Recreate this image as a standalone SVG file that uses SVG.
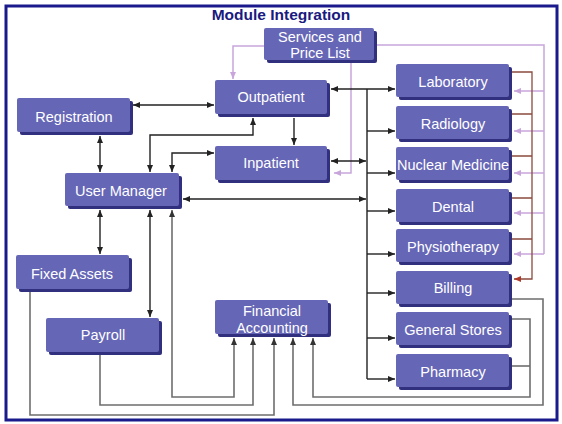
<svg xmlns="http://www.w3.org/2000/svg" width="562" height="424" viewBox="0 0 562 424">
<style>
.sh{fill:#30307e}
.bx{fill:#6666b6}
.t{font-family:"Liberation Sans",Arial,sans-serif;font-size:14.5px;fill:#ffffff;text-anchor:middle}
.k{fill:none;stroke:#222;stroke-width:1.4}
.g{fill:none;stroke:#6e6e6e;stroke-width:1.6}
.l{fill:none;stroke:#c8a6dc;stroke-width:1.5}
.b{fill:none;stroke:#8a4a3c;stroke-width:1.3}
</style>
<defs>
<marker id="ak" viewBox="0 0 7 6" refX="7" refY="3" markerWidth="7" markerHeight="6" markerUnits="userSpaceOnUse" orient="auto-start-reverse"><path d="M0,0L7,3L0,6z" fill="#222"/></marker>
<marker id="ag" viewBox="0 0 7 6" refX="7" refY="3" markerWidth="7" markerHeight="6" markerUnits="userSpaceOnUse" orient="auto-start-reverse"><path d="M0,0L7,3L0,6z" fill="#333"/></marker>
<marker id="al" viewBox="0 0 7 6" refX="7" refY="3" markerWidth="7" markerHeight="6" markerUnits="userSpaceOnUse" orient="auto-start-reverse"><path d="M0,0L7,3L0,6z" fill="#c8a6dc"/></marker>
<marker id="ab" viewBox="0 0 7 6" refX="7" refY="3" markerWidth="7" markerHeight="6" markerUnits="userSpaceOnUse" orient="auto-start-reverse"><path d="M0,0L7,3L0,6z" fill="#b03a2a"/></marker>
</defs>
<rect x="0" y="0" width="562" height="424" fill="#ffffff"/>
<rect x="6" y="6" width="551" height="414" fill="#ffffff" stroke="#1a1a8c" stroke-width="3"/>
<text x="281" y="20" font-family="'Liberation Sans',Arial,sans-serif" font-size="15.5" font-weight="bold" fill="#1a1a80" text-anchor="middle">Module Integration</text>

<g id="connectors">
<path class="l" d="M264,46H233V79" marker-end="url(#al)"/>
<path class="l" d="M351,63V173H334" marker-end="url(#al)"/>
<path class="l" d="M377,45H544V254"/>
<path class="l" d="M544,91H514" marker-end="url(#al)"/>
<path class="l" d="M544,131H514" marker-end="url(#al)"/>
<path class="l" d="M544,173H514" marker-end="url(#al)"/>
<path class="l" d="M544,213H514" marker-end="url(#al)"/>
<path class="l" d="M544,254H514" marker-end="url(#al)"/>
<path class="b" d="M512,72H532V279H514" marker-end="url(#ab)"/>
<path class="b" d="M512,114H532M512,156H532M512,198H532M512,239H532"/>
<path class="k" d="M133,105H214" marker-start="url(#ak)" marker-end="url(#ak)"/>
<path class="k" d="M100,136V172" marker-start="url(#ak)" marker-end="url(#ak)"/>
<path class="k" d="M150,172V135H253V118" marker-start="url(#ak)" marker-end="url(#ak)"/>
<path class="k" d="M172,172V153H214" marker-start="url(#ak)" marker-end="url(#ak)"/>
<path class="k" d="M294,118V145" marker-end="url(#ak)"/>
<path class="k" d="M331,89H395" marker-start="url(#ak)" marker-end="url(#ak)"/>
<path class="k" d="M367,89V379"/>
<path class="k" d="M331,161H366" marker-start="url(#ak)" marker-end="url(#ak)"/>
<path class="k" d="M183,199H366" marker-start="url(#ak)" marker-end="url(#ak)"/>
<path class="k" d="M367,131H395" marker-end="url(#ak)"/>
<path class="k" d="M367,173H395" marker-end="url(#ak)"/>
<path class="k" d="M367,211H395" marker-end="url(#ak)"/>
<path class="k" d="M367,254H395" marker-end="url(#ak)"/>
<path class="k" d="M367,293H395" marker-end="url(#ak)"/>
<path class="k" d="M367,338H395" marker-end="url(#ak)"/>
<path class="k" d="M367,379H395" marker-end="url(#ak)"/>
<path class="k" d="M100,210V254" marker-start="url(#ak)" marker-end="url(#ak)"/>
<path class="k" d="M150,210V317" marker-start="url(#ak)" marker-end="url(#ak)"/>
<path class="g" d="M172,210V397H234V338" marker-start="url(#ag)" marker-end="url(#ag)"/>
<path class="g" d="M100,355V405H253V338" marker-end="url(#ag)"/>
<path class="g" d="M30,292V415H274V338" marker-end="url(#ag)"/>
<path class="g" d="M512,299H543V405H293V338" marker-end="url(#ag)"/>
<path class="g" d="M512,319H530V397H313V338" marker-end="url(#ag)"/>
<path class="g" d="M512,366H530"/>
</g>

<g id="services"><rect class="sh" x="267" y="31" width="110" height="32" rx="2"/><rect class="bx" x="264" y="28" width="110" height="32" rx="2"/><text class="t" x="320" y="42">Services and</text><text class="t" x="320" y="58">Price List</text></g>
<g id="outpatient"><rect class="sh" x="218" y="83" width="112" height="34" rx="2"/><rect class="bx" x="215" y="80" width="112" height="34" rx="2"/><text class="t" x="271" y="102">Outpatient</text></g>
<g id="inpatient"><rect class="sh" x="218" y="149" width="112" height="34" rx="2"/><rect class="bx" x="215" y="146" width="112" height="34" rx="2"/><text class="t" x="271" y="168">Inpatient</text></g>
<g id="registration"><rect class="sh" x="20" y="101" width="113" height="34" rx="2"/><rect class="bx" x="17" y="98" width="113" height="34" rx="2"/><text class="t" x="74" y="122">Registration</text></g>
<g id="user-manager"><rect class="sh" x="68" y="176" width="114" height="33" rx="2"/><rect class="bx" x="65" y="173" width="114" height="33" rx="2"/><text class="t" x="121" y="196">User Manager</text></g>
<g id="fixed-assets"><rect class="sh" x="19" y="258" width="113" height="34" rx="2"/><rect class="bx" x="16" y="255" width="113" height="34" rx="2"/><text class="t" x="72" y="279">Fixed Assets</text></g>
<g id="payroll"><rect class="sh" x="49" y="321" width="113" height="34" rx="2"/><rect class="bx" x="46" y="318" width="113" height="34" rx="2"/><text class="t" x="103" y="340">Payroll</text></g>
<g id="financial-accounting"><rect class="sh" x="218" y="303" width="113" height="34" rx="2"/><rect class="bx" x="215" y="300" width="113" height="34" rx="2"/><text class="t" x="272" y="316">Financial</text><text class="t" x="272" y="333">Accounting</text></g>
<g id="laboratory"><rect class="sh" x="399" y="67" width="113" height="33" rx="2"/><rect class="bx" x="396" y="64" width="113" height="33" rx="2"/><text class="t" x="453" y="87">Laboratory</text></g>
<g id="radiology"><rect class="sh" x="399" y="109" width="113" height="33" rx="2"/><rect class="bx" x="396" y="106" width="113" height="33" rx="2"/><text class="t" x="453" y="129">Radiology</text></g>
<g id="nuclear-medicine"><rect class="sh" x="399" y="150" width="113" height="33" rx="2"/><rect class="bx" x="396" y="147" width="113" height="33" rx="2"/><text class="t" x="453" y="170">Nuclear Medicine</text></g>
<g id="dental"><rect class="sh" x="399" y="192" width="113" height="33" rx="2"/><rect class="bx" x="396" y="189" width="113" height="33" rx="2"/><text class="t" x="453" y="212">Dental</text></g>
<g id="physiotherapy"><rect class="sh" x="399" y="232" width="113" height="33" rx="2"/><rect class="bx" x="396" y="229" width="113" height="33" rx="2"/><text class="t" x="453" y="252">Physiotherapy</text></g>
<g id="billing"><rect class="sh" x="399" y="274" width="113" height="33" rx="2"/><rect class="bx" x="396" y="271" width="113" height="33" rx="2"/><text class="t" x="453" y="293">Billing</text></g>
<g id="general-stores"><rect class="sh" x="399" y="315" width="113" height="33" rx="2"/><rect class="bx" x="396" y="312" width="113" height="33" rx="2"/><text class="t" x="453" y="335">General Stores</text></g>
<g id="pharmacy"><rect class="sh" x="399" y="357" width="113" height="33" rx="2"/><rect class="bx" x="396" y="354" width="113" height="33" rx="2"/><text class="t" x="453" y="377">Pharmacy</text></g>
</svg>
